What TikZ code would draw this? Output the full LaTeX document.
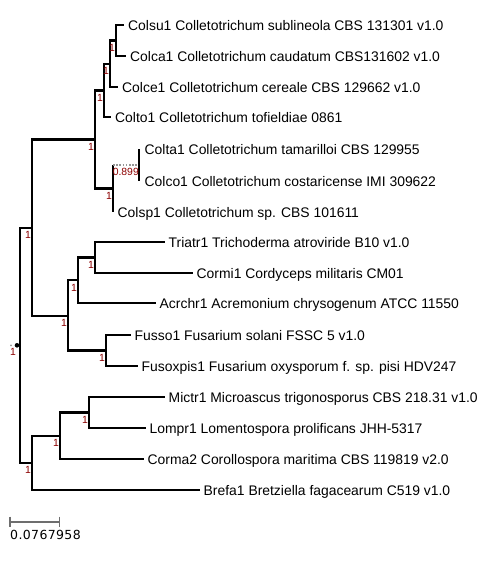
\documentclass[tikz,border=0pt]{standalone}
\usepackage{fontspec}
\setmainfont{Liberation Sans}
\newfontfamily\scalefnt[LetterSpace=3]{DejaVu Sans}
\definecolor{suppred}{RGB}{140,0,0}
\definecolor{bargray}{RGB}{110,110,110}
\definecolor{dotgray}{RGB}{150,150,150}
\begin{document}
\begin{tikzpicture}[x=1pt,y=-1pt,
  branch/.style={line width=2.2pt, line join=miter, black},
  dotbranch/.style={line width=1.6pt, dotgray, dash pattern=on 1.6pt off 1.6pt},
  leaflabel/.style={anchor=base west, inner sep=0pt, font=\fontsize{13.9}{16}\selectfont},
  supp/.style={anchor=north east, inner sep=0pt, text=suppred, font=\fontsize{10.4}{12}\selectfont},
  scalebar/.style={line width=2pt, bargray},
  scaletick/.style={line width=1.5pt, bargray}]
\useasboundingbox (0,0) rectangle (490,566);

% internal nodes
\coordinate (R) at (20,345.3);
\coordinate (A) at (32,227.7);
\coordinate (C) at (95,139.5);
\coordinate (C1) at (104,90.5);
\coordinate (C1a) at (110,64);
\coordinate (C1b) at (116,40.5);
\coordinate (C2) at (113,188.5);
\coordinate (C2a) at (139,165);
\coordinate (H) at (68,315.7);
\coordinate (H1) at (78,280.3);
\coordinate (H1a) at (95,257.5);
\coordinate (H2) at (106,350.5);
\coordinate (B) at (32,463);
\coordinate (B1) at (60,435.8);
\coordinate (B1a) at (89,412.5);

% leaf tips
\coordinate (colsu) at (124,25);
\coordinate (colca) at (126,56);
\coordinate (colce) at (118,87);
\coordinate (colto) at (111,117);
\coordinate (colta) at (139,149);
\coordinate (colco) at (139,181);
\coordinate (colsp) at (113,212);
\coordinate (triatr) at (165,242);
\coordinate (cormi) at (193,273);
\coordinate (acrchr) at (156,303);
\coordinate (fusso) at (131,335);
\coordinate (fusox) at (138,366);
\coordinate (mictr) at (165,397);
\coordinate (lompr) at (146,428);
\coordinate (corma) at (144,459);
\coordinate (brefa) at (200,490);

% branches
\draw[branch] (R) |- (A);
\draw[branch] (R) |- (B);
\draw[branch] (A) |- (C);
\draw[branch] (A) |- (H);
\draw[branch] (C) |- (C1);
\draw[branch] (C) |- (C2);
\draw[branch] (C1) |- (C1a);
\draw[branch] (C1) |- (colto);
\draw[branch] (C1a) |- (C1b);
\draw[branch] (C1a) |- (colce);
\draw[branch] (C1b) |- (colsu);
\draw[branch] (C1b) |- (colca);
\draw[branch] (C2) -- (C2 |- C2a);
\draw[dotbranch] (C2 |- C2a) -- (C2a);
\draw[branch] (C2) |- (colsp);
\draw[branch] (C2a) |- (colta);
\draw[branch] (C2a) |- (colco);
\draw[branch] (H) |- (H1);
\draw[branch] (H) |- (H2);
\draw[branch] (H1) |- (H1a);
\draw[branch] (H1) |- (acrchr);
\draw[branch] (H1a) |- (triatr);
\draw[branch] (H1a) |- (cormi);
\draw[branch] (H2) |- (fusso);
\draw[branch] (H2) |- (fusox);
\draw[branch] (B) |- (B1);
\draw[branch] (B) |- (brefa);
\draw[branch] (B1) |- (B1a);
\draw[branch] (B1) |- (corma);
\draw[branch] (B1a) |- (mictr);
\draw[branch] (B1a) |- (lompr);

% root marks
\node[circle, fill=black, inner sep=0pt, minimum size=4.6pt] (rootdot) at (17,345.3) {};
\node[circle, fill=dotgray, inner sep=0pt, minimum size=2pt] (rootstub) at (11,345.3) {};

% leaf labels
\node[leaflabel] (colsuL) at ([shift={(4,5)}]colsu) {Colsu1 Colletotrichum sublineola CBS 131301 v1.0};
\node[leaflabel] (colcaL) at ([shift={(4,5)}]colca) {Colca1 Colletotrichum caudatum CBS131602 v1.0};
\node[leaflabel] (colceL) at ([shift={(4,5)}]colce) {Colce1 Colletotrichum cereale CBS 129662 v1.0};
\node[leaflabel] (coltoL) at ([shift={(4,5)}]colto) {Colto1 Colletotrichum tofieldiae 0861};
\node[leaflabel] (coltaL) at ([shift={(5.5,5)}]colta) {Colta1 Colletotrichum tamarilloi CBS 129955};
\node[leaflabel] (colcoL) at ([shift={(5.5,5)}]colco) {Colco1 Colletotrichum costaricense IMI 309622};
\node[leaflabel] (colspL) at ([shift={(4.5,5)}]colsp) {Colsp1 Colletotrichum sp. CBS 101611};
\node[leaflabel] (triatrL) at ([shift={(3.5,5)}]triatr) {Triatr1 Trichoderma atroviride B10 v1.0};
\node[leaflabel] (cormiL) at ([shift={(3.5,5)}]cormi) {Cormi1 Cordyceps militaris CM01};
\node[leaflabel] (acrchrL) at ([shift={(3.5,5)}]acrchr) {Acrchr1 Acremonium chrysogenum ATCC 11550};
\node[leaflabel] (fussoL) at ([shift={(3.5,5)}]fusso) {Fusso1 Fusarium solani FSSC 5 v1.0};
\node[leaflabel] (fusoxL) at ([shift={(3.5,5)}]fusox) {Fusoxpis1 Fusarium oxysporum f. sp. pisi HDV247};
\node[leaflabel] (mictrL) at ([shift={(3.5,5)}]mictr) {Mictr1 Microascus trigonosporus CBS 218.31 v1.0};
\node[leaflabel] (lomprL) at ([shift={(3.5,5)}]lompr) {Lompr1 Lomentospora prolificans JHH-5317};
\node[leaflabel] (cormaL) at ([shift={(3.5,5)}]corma) {Corma2 Corollospora maritima CBS 119819 v2.0};
\node[leaflabel] (brefaL) at ([shift={(3.5,5)}]brefa) {Brefa1 Bretziella fagacearum C519 v1.0};

% support values
\node[supp] (sR) at ([shift={(-1,3)}]rootdot) {1};
\node[supp] (sA) at ([shift={(-1,3.5)}]A) {1};
\node[supp] (sC) at ([shift={(-1,3.5)}]C) {1};
\node[supp] (sC1) at ([shift={(-1,3.5)}]C1) {1};
\node[supp] (sC1a) at ([shift={(-1,3.5)}]C1a) {1};
\node[supp] (sC1b) at ([shift={(-1,3.5)}]C1b) {1};
\node[supp] (sC2) at ([shift={(-1,3.5)}]C2) {1};
\node[supp] (sC2a) at ([shift={(0,3)}]C2a) {0.899};
\node[supp] (sH) at ([shift={(-1,3.5)}]H) {1};
\node[supp] (sH1) at ([shift={(-1,3.5)}]H1) {1};
\node[supp] (sH1a) at ([shift={(-1,3.5)}]H1a) {1};
\node[supp] (sH2) at ([shift={(-1,3.5)}]H2) {1};
\node[supp] (sB) at ([shift={(-1,3.5)}]B) {1};
\node[supp] (sB1) at ([shift={(-1,3.5)}]B1) {1};
\node[supp] (sB1a) at ([shift={(-1,3.5)}]B1a) {1};

% scale bar
\coordinate (sb0) at (10,522);
\coordinate (sb1) at (59.5,522);
\draw[scalebar] (sb0) -- (sb1);
\draw[scaletick] ([yshift=5.5pt]sb0) -- ([yshift=-5pt]sb0);
\draw[scaletick] ([yshift=5.5pt]sb1) -- ([yshift=-5pt]sb1);
\node[anchor=base west, inner sep=0pt, font=\scalefnt\fontsize{12.5}{14}\selectfont] (sbL) at (10,539) {0.0767958};
\end{tikzpicture}
\end{document}
